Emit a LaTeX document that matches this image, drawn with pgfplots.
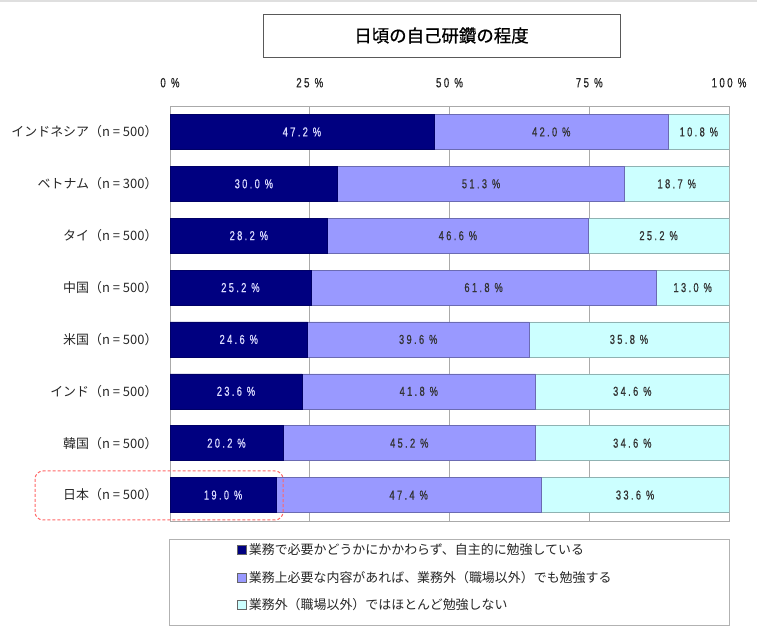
\documentclass[border=0pt]{standalone}
\usepackage{pgfplots}
\pgfplotsset{compat=1.18}
\usepackage{fontspec}
\setmainfont{Noto Sans CJK JP}
\newfontfamily\titlefont[FakeBold=0.8]{Noto Sans CJK JP}
\newfontfamily\numfont[FakeStretch=0.72,LetterSpace=18,FakeBold=0.6]{Liberation Sans}
\definecolor{cA}{RGB}{0,0,128}
\definecolor{cB}{RGB}{153,153,255}
\definecolor{cC}{RGB}{204,255,255}
\definecolor{gridc}{RGB}{170,170,170}
\begin{document}
\begin{tikzpicture}
\path[use as bounding box] (0bp,0bp) rectangle (757bp,636bp);
\draw[gray!25,line width=1.5bp] (0bp,635bp) -- (757bp,635bp);
% title box
\draw[gray!70!black,line width=0.8bp] (263bp,579bp) rectangle (620bp,622bp);
\node[font=\titlefont\fontsize{17.5}{19}\selectfont] at (441.5bp,600.5bp) {日頃の自己研鑽の程度};
% legend box
\draw[gray!60,line width=0.8bp] (169bp,11bp) rectangle (729bp,97bp);
\begin{axis}[
  at={(170bp,115bp)}, anchor=south west,
  scale only axis, width=559bp, height=415bp,
  xbar stacked, bar width=35bp,
  xmin=0, xmax=100,
  ymin=-0.5, ymax=7.5, y dir=reverse,
  ytick={0,...,7},
  yticklabels={インドネシア（n = 500）,ベトナム（n = 300）,タイ（n = 500）,中国（n = 500）,米国（n = 500）,インド（n = 500）,韓国（n = 500）,日本（n = 500）},
  yticklabel style={font=\fontsize{13}{15}\selectfont, color=black!85, xshift=-9bp},
  xtick={0,25,50,75,100},
  xticklabels={0\ \%,25\ \%,50\ \%,75\ \%,100\ \%},
  xticklabel pos=upper,
  xticklabel style={font=\numfont\fontsize{13.5}{14}\selectfont, color=black!85, yshift=15bp},
  major tick length=0pt,
  xmajorgrids, grid style={gridc, line width=0.6bp},
  axis line style={gridc, line width=0.8bp},
  nodes near coords={\pgfmathprintnumber[assume math mode=true,fixed,fixed zerofill,precision=1]{\pgfplotspointmeta}\ \%},
  every node near coord/.append style={anchor=center, font=\numfont\fontsize{13}{14}\selectfont},
  point meta=rawx,
  legend style={at={(0.115,-0.045)}, anchor=north west, draw=none, fill=none,
    font=\fontsize{13}{15}\selectfont, row sep=11bp, cells={anchor=west}, text=black!85},
  legend cell align=left,
  legend image code/.code={\draw[#1,draw=gray!80!black,line width=0.4bp] (0bp,-4.5bp) rectangle (9bp,4.5bp);},
]
\addplot[fill=cA, draw=cA!80!black, line width=0.5bp, every node near coord/.append style={text=cB!35!white}] coordinates {(47.2,0) (30.0,1) (28.2,2) (25.2,3) (24.6,4) (23.6,5) (20.2,6) (19.0,7)};
\addplot[fill=cB, draw=cB!70!black, line width=0.5bp, every node near coord/.append style={text=black!80}] coordinates {(42.0,0) (51.3,1) (46.6,2) (61.8,3) (39.6,4) (41.8,5) (45.2,6) (47.4,7)};
\addplot[fill=cC, draw=cC!70!black, line width=0.5bp, every node near coord/.append style={text=black!80}] coordinates {(10.8,0) (18.7,1) (25.2,2) (13.0,3) (35.8,4) (34.6,5) (34.6,6) (33.6,7)};
\legend{業務で必要かどうかにかかわらず、自主的に勉強している,業務上必要な内容があれば、業務外（職場以外）でも勉強する,業務外（職場以外）ではほとんど勉強しない}
\end{axis}
\draw[red!60, line width=1bp, rounded corners=8bp, dash pattern=on 3bp off 2bp] (35bp,116bp) rectangle (283bp,165bp);
\end{tikzpicture}
\end{document}
